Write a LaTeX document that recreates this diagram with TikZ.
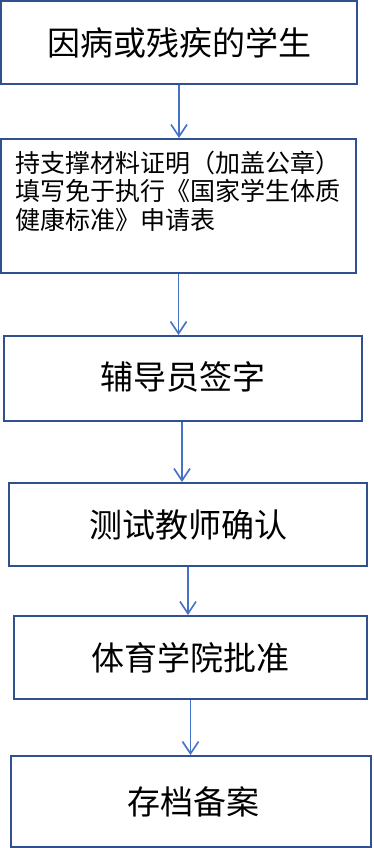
\documentclass[tikz,border=0pt]{standalone}
\usepackage{fontspec}
\newfontfamily\cjk{Noto Sans CJK SC}
\usetikzlibrary{arrows.meta}
\definecolor{boxblue}{HTML}{2F528F}
\definecolor{arrblue}{HTML}{4472C4}
\tikzset{
  stepbox/.style={draw=boxblue, line width=2pt, fill=white, rectangle, inner sep=0pt,
    font=\cjk\fontsize{33}{38}\selectfont},
  arr/.style={draw=arrblue, line width=1.6pt, -{Straight Barb[length=12pt,width=16pt]}}
}
\begin{document}
\begin{tikzpicture}[x=1pt,y=1pt]
\useasboundingbox (0,0) rectangle (374,-848);
\node[stepbox, minimum width=356pt, minimum height=83pt] (b1) at (179,-42.5) {因病或残疾的学生};
\node[stepbox, minimum width=355pt, minimum height=134pt] (b2) at (178.5,-206) {};
\node[anchor=north west, align=left, inner sep=0pt, font=\cjk\fontsize{25}{28.5}\selectfont] (b2t) at (15,-150.5) {持支撑材料证明（加盖公章）\\填写免于执行《国家学生体质\\健康标准》申请表};
\node[stepbox, minimum width=358pt, minimum height=85pt] (b3) at (183,-378.5) {\raisebox{5pt}{辅导员签字}};
\node[stepbox, minimum width=358pt, minimum height=83pt] (b4) at (188,-524.5) {测试教师确认};
\node[stepbox, minimum width=353pt, minimum height=83pt] (b5) at (190.5,-657.5) {体育学院批准};
\node[stepbox, minimum width=360pt, minimum height=91pt] (b6) at (191,-801.5) {\hspace*{5pt}存档备案};
\draw[arr] (b1.south) -- (b1.south |- b2.north);
\draw[arr] (b2.south) -- (b2.south |- b3.north);
\draw[arr] ([xshift=-1pt]b3.south) -- ([xshift=-1pt]b3.south |- b4.north);
\draw[arr] (b4.south) -- (b4.south |- b5.north);
\draw[arr] (b5.south) -- (b5.south |- b6.north);
\end{tikzpicture}
\end{document}
